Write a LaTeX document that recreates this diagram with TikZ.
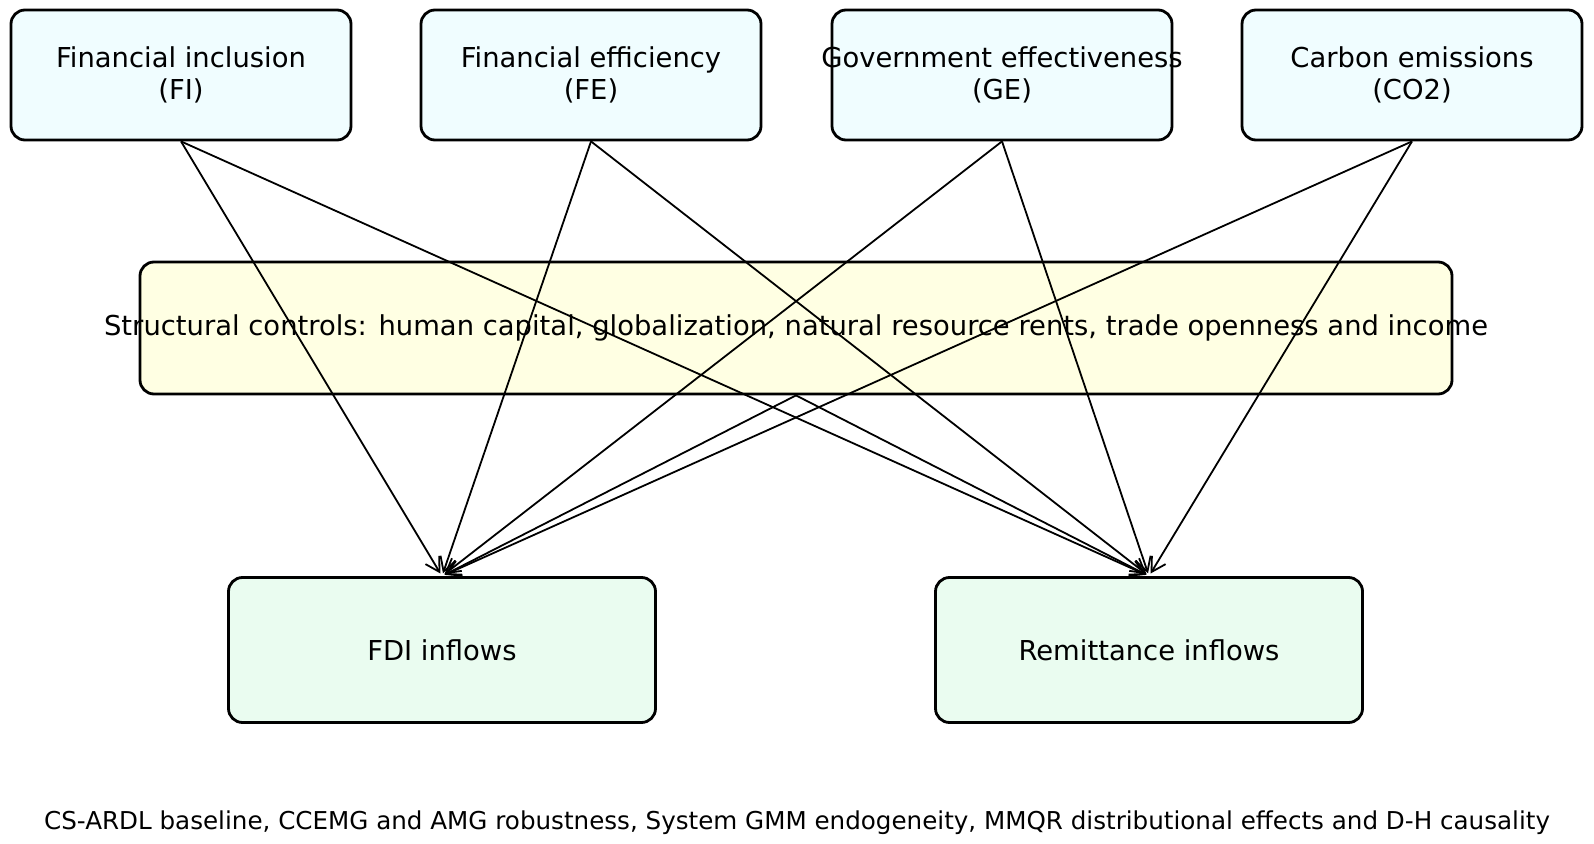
\documentclass[tikz,border=0pt]{standalone}
\usepackage{fontspec}
\setmainfont{DejaVu Sans}
\usetikzlibrary{arrows.meta}
\definecolor{topfill}{HTML}{F0FDFF}
\definecolor{midfill}{HTML}{FFFFE3}
\definecolor{botfill}{HTML}{EAFCF0}
\tikzset{
  box/.style={draw=black, line width=1.4pt, rounded corners=7pt, inner sep=0pt},
  topbox/.style={box, fill=topfill, minimum width=170pt, minimum height=65pt},
  midbox/.style={box, fill=midfill, minimum width=656pt, minimum height=66pt},
  botbox/.style={box, fill=botfill, minimum width=213.5pt, minimum height=72.5pt},
  lbl/.style={align=center, inner sep=0pt, font=\fontsize{13.7}{16.2}\selectfont},
  notelbl/.style={inner sep=0pt, font=\fontsize{12.3}{15}\selectfont},
  link/.style={line width=0.9pt, -{Straight Barb[length=7pt,width=8pt,line width=0.9pt]}, shorten >=1.5pt},
}
\begin{document}
\begin{tikzpicture}[x=0.5pt,y=-0.5pt]
\useasboundingbox (0,0) rectangle (1594,844);
% boxes
\node[topbox] (fi) at (181,75) {};
\node[topbox] (fe) at (591,75) {};
\node[topbox] (ge) at (1002,75) {};
\node[topbox] (co) at (1412,75) {};
\node[midbox] (sc) at (796,328) {};
\node[botbox] (fdi) at (442,650) {};
\node[botbox] (rem) at (1149,650) {};
% texts
\node[lbl] (fit) at (fi) {Financial inclusion\\(FI)};
\node[lbl] (fet) at (fe) {Financial efficiency\\(FE)};
\node[lbl] (get) at (ge) {Government effectiveness\\(GE)};
\node[lbl] (cot) at (co) {Carbon emissions\\(CO2)};
\node[lbl] (sct) at (sc) {Structural controls: human capital, globalization, natural resource rents, trade openness and income};
\node[lbl] (fdit) at (fdi) {FDI inflows};
\node[lbl] (remt) at (rem) {Remittance inflows};
\node[notelbl] (note) at (797,823) {CS-ARDL baseline, CCEMG and AMG robustness, System GMM endogeneity, MMQR distributional effects and D-H causality};
% links
\foreach \s in {fi,fe,ge,co,sc}{
  \draw[link] (\s.south) -- (fdi.north);
  \draw[link] (\s.south) -- (rem.north);
}
\end{tikzpicture}
\end{document}
